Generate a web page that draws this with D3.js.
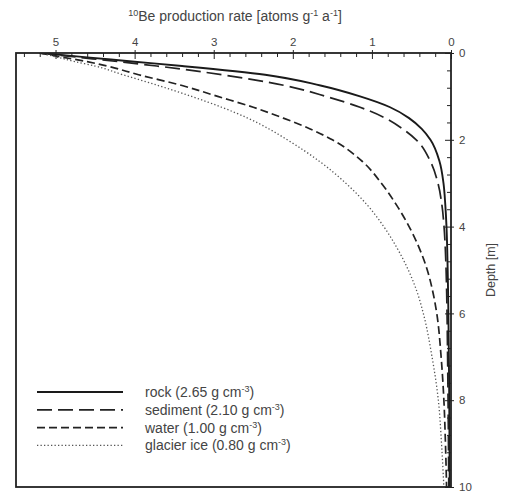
<!DOCTYPE html>
<html><head><meta charset="utf-8">
<script src="https://cdn.jsdelivr.net/npm/d3@7"></script>
<style>
body{margin:0;background:#fff;}
svg{display:block;font-family:"Liberation Sans",Arial,sans-serif;}
</style></head>
<body><svg id="c" width="506" height="495"></svg>
<script>
// Data
const depths = [0, 0.1, 0.2, 0.3, 0.5, 0.75, 1, 1.25, 1.5, 1.75, 2, 2.5, 3, 3.5, 4, 4.5, 5, 5.5, 6, 7, 8, 9, 10];
const rock     = [5.2, 4.6, 4.0, 3.4, 2.35, 1.65, 1.15, 0.77, 0.53, 0.37, 0.26, 0.145, 0.095, 0.072, 0.057, 0.048, 0.042, 0.037, 0.033, 0.027, 0.022, 0.019, 0.016];
const sediment = [5.2, 4.7, 4.2, 3.72, 2.9, 2.1, 1.58, 1.15, 0.83, 0.61, 0.44, 0.26, 0.165, 0.115, 0.088, 0.072, 0.062, 0.055, 0.05, 0.043, 0.037, 0.032, 0.028];
const water    = [5.2, 4.9, 4.6, 4.35, 3.95, 3.4, 2.95, 2.5, 2.12, 1.78, 1.5, 1.12, 0.88, 0.69, 0.53, 0.40, 0.30, 0.23, 0.18, 0.125, 0.09, 0.07, 0.056];
const ice      = [5.2, 4.97, 4.75, 4.5, 4.15, 3.7, 3.28, 2.9, 2.57, 2.3, 2.07, 1.66, 1.33, 1.06, 0.85, 0.68, 0.54, 0.43, 0.35, 0.24, 0.16, 0.12, 0.09];
const seriesNames = ["rock", "sediment", "water", "glacier ice"];
const densities = ["2.65", "2.10", "1.00", "0.80"];
const xTicks = [5, 4, 3, 2, 1, 0];
const yTicks = [0, 2, 4, 6, 8, 10];

const svg = d3.select("#c");
const L = 16, R = 451, T = 53, B = 487;
const x = d3.scaleLinear().domain([5.5, 0]).range([L, R]);
const y = d3.scaleLinear().domain([0, 10]).range([T, B]);
const ink = "#222", txt = "#444";

// Title
const title = svg.append("text").attr("x", 235).attr("y", 21).attr("text-anchor", "middle")
  .attr("font-size", 14).attr("fill", txt);
title.append("tspan").attr("font-size", 9).attr("dy", -5).text("10");
title.append("tspan").attr("dy", 5).text("Be production rate [atoms g");
title.append("tspan").attr("font-size", 9).attr("dy", -5).text("-1");
title.append("tspan").attr("dy", 5).text(" a");
title.append("tspan").attr("font-size", 9).attr("dy", -5).text("-1");
title.append("tspan").attr("dy", 5).text("]");

// Minor ticks
const xMinor = d3.range(0, 5.5, 0.2).filter(v => Math.abs(v - Math.round(v)) > 1e-6);
const yMinor = d3.range(0, 10, 0.4).filter(v => Math.abs(v/2 - Math.round(v/2)) > 1e-6);

function styleAxis(g){ g.select(".domain").remove(); g.selectAll("line").attr("stroke", ink).attr("stroke-width", 1); }

svg.append("g").attr("transform", `translate(0,${T})`)
  .call(d3.axisTop(x).tickValues(xMinor).tickSize(-4).tickFormat("")).call(styleAxis);
svg.append("g").attr("transform", `translate(0,${T})`)
  .call(d3.axisTop(x).tickValues(xTicks).tickSize(-6).tickFormat("")).call(styleAxis);
const xa = svg.append("g").attr("transform", `translate(0,${T})`)
  .call(d3.axisTop(x).tickValues(xTicks).tickSize(3).tickPadding(4).tickFormat(d3.format("d")));
styleAxis(xa);
xa.selectAll("text").attr("font-size", 11.5).attr("fill", txt).attr("font-family", "Liberation Sans, Arial, sans-serif");

svg.append("g").attr("transform", `translate(${R},0)`)
  .call(d3.axisRight(y).tickValues(yMinor).tickSize(-4).tickFormat("")).call(styleAxis);
svg.append("g").attr("transform", `translate(${R},0)`)
  .call(d3.axisRight(y).tickValues(yTicks).tickSize(-6).tickFormat("")).call(styleAxis);
const ya = svg.append("g").attr("transform", `translate(${R},0)`)
  .call(d3.axisRight(y).tickValues(yTicks).tickSize(3).tickPadding(5).tickFormat(d3.format("d")));
styleAxis(ya);
ya.selectAll("text").attr("font-size", 11.5).attr("fill", txt).attr("font-family", "Liberation Sans, Arial, sans-serif");

svg.append("text").attr("transform", `translate(491,${(T+B)/2}) rotate(-90)`)
  .attr("text-anchor", "middle").attr("dy", "0.35em").attr("font-size", 12.5).attr("fill", txt).text("Depth [m]");

// Curves
const styles = [
  {data: rock, dash: null, w: 1.9, c: "#1a1a1a"},
  {data: sediment, dash: "15,6", w: 1.7, c: "#222"},
  {data: water, dash: "8,4", w: 1.7, c: "#222"},
  {data: ice, dash: "1.3,2.2", w: 1.3, c: "#555"}
];
const line = d3.line().x(d => x(d[1])).y(d => y(d[0])).curve(d3.curveMonotoneY);
svg.append("clipPath").attr("id", "pc").append("rect")
  .attr("x", L).attr("y", T).attr("width", R - L).attr("height", B - T);
styles.forEach(s => {
  svg.append("path").datum(depths.map((d, i) => [d, s.data[i]]))
    .attr("clip-path", "url(#pc)")
    .attr("d", line).attr("fill", "none").attr("stroke", s.c)
    .attr("stroke-width", s.w).attr("stroke-dasharray", s.dash);
});

// Frame
svg.append("rect").attr("x", L).attr("y", T).attr("width", R - L).attr("height", B - T)
  .attr("fill", "none").attr("stroke", ink).attr("stroke-width", 1.8);

// Legend
const lg = svg.append("g");
styles.forEach((s, i) => {
  const yy = 392 + i * 17.8;
  lg.append("line").attr("x1", 37).attr("x2", 123).attr("y1", yy).attr("y2", yy)
    .attr("stroke", s.c).attr("stroke-width", s.w).attr("stroke-dasharray", s.dash);
  const t = lg.append("text").attr("x", 145).attr("y", yy).attr("dy", "0.35em")
    .attr("font-size", 14).attr("fill", txt);
  t.append("tspan").text(`${seriesNames[i]} (${densities[i]} g cm`);
  t.append("tspan").attr("font-size", 9).attr("dy", -5).text("-3");
  t.append("tspan").attr("dy", 5).text(")");
});
</script></body></html>
